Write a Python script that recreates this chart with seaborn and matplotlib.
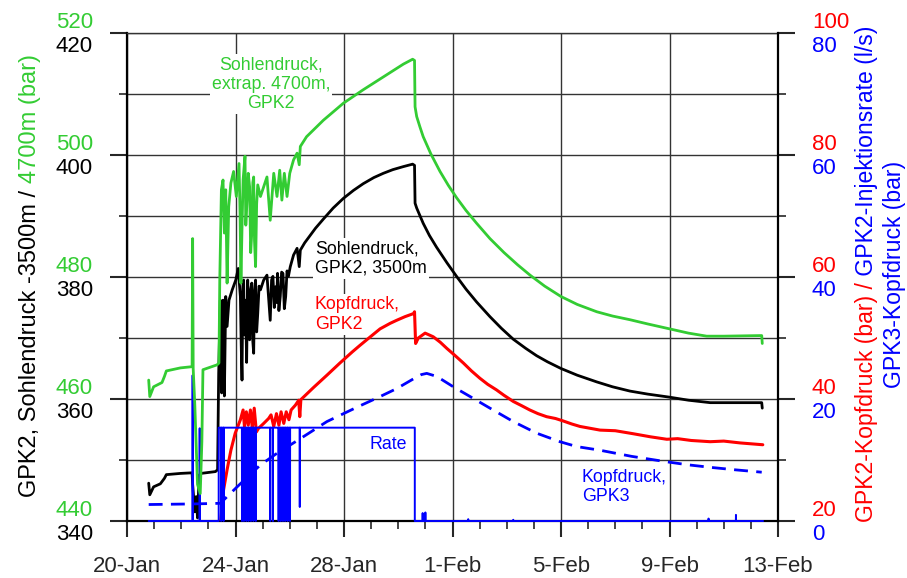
import pandas as pd
import matplotlib
matplotlib.use("Agg")
import matplotlib.pyplot as plt
import matplotlib.dates as mdates
from matplotlib.ticker import FixedLocator, MultipleLocator
import seaborn as sns

T0 = pd.Timestamp("2000-01-20")
DAYS_SHOWN = 24

# ---- x axis -------------------------------------------------------------
xtick_days = [0, 4, 8, 12, 16, 20, 24]
xtick_labels = ["20-Jan", "24-Jan", "28-Jan", "1-Feb", "5-Feb", "9-Feb", "13-Feb"]

# ---- y axes ----------------------------------------------------------------
black_ticks = [340, 360, 380, 400, 420]   # Sohlendruck 3500 m (bar)
green_ticks = [440, 460, 480, 500, 520]   # Sohlendruck 4700 m (bar)
red_ticks = [20, 40, 60, 80, 100]         # GPK2 Kopfdruck (bar)
blue_ticks = [0, 20, 40, 60, 80]          # Injektionsrate (l/s) / GPK3 Kopfdruck (bar)

# ---- Sohlendruck GPK2, 3500 m (bar); time in days after 20-Jan ----------
sohle3500_days = [0.80, 0.84, 0.98, 1.23, 1.38, 1.45, 1.97, 2.40, 2.42, 2.50,
                  2.55, 2.60, 2.66, 2.72, 3.26, 3.34, 3.38, 3.44, 3.49, 3.54,
                  3.59, 3.64, 3.69, 3.76, 3.88, 4.01, 4.10, 4.18, 4.21, 4.24,
                  4.27, 4.30, 4.33, 4.37, 4.41, 4.45, 4.49, 4.52, 4.56, 4.60,
                  4.63, 4.67, 4.70, 4.74, 4.78, 4.82, 4.87, 4.92, 5.04, 5.16,
                  5.28, 5.33, 5.38, 5.43, 5.48, 5.52, 5.55, 5.60, 5.65, 5.70,
                  5.75, 5.80, 5.85, 5.90, 5.95, 6.02, 6.14, 6.27, 6.35, 6.39,
                  6.55, 6.70, 6.95, 7.24, 7.60, 7.98, 8.35, 8.71, 9.10, 9.45,
                  9.80, 10.19, 10.53, 10.60, 10.62, 10.68,
                  10.92, 11.15, 11.41, 11.80, 12.15, 12.50, 12.89, 13.38, 13.80, 14.24,
                  14.70, 15.10, 15.50, 16.00, 16.60, 17.32, 17.90, 18.54, 19.20, 20.00,
                  20.70, 21.50, 23.40, 23.42]
sohle3500_bar = [346.2, 344.3, 345.6, 346.1, 347.0, 347.6, 347.8, 347.9, 346.0, 341.5,
                 344.0, 340.5, 347.5, 347.8, 348.1, 348.4, 364.2, 376.2, 361.0, 376.2,
                 360.5, 376.8, 371.9, 376.2, 377.9, 379.5, 381.4, 376.8, 369.0, 363.1,
                 378.5, 379.5, 370.5, 376.2, 366.0, 379.5, 372.0, 369.7, 378.0, 379.0,
                 370.0, 367.5, 377.5, 379.5, 371.0, 374.0, 378.5, 377.9, 379.5, 380.3,
                 372.9, 379.5, 380.1, 375.0, 378.4, 375.8, 380.6, 374.5, 376.8, 380.8,
                 380.6, 374.8, 376.8, 381.0, 380.1, 381.7, 383.6, 384.7, 381.7, 384.4,
                 385.6, 386.5, 388.0, 389.5, 391.3, 392.9, 394.2, 395.3, 396.3, 397.0,
                 397.6, 398.1, 398.5, 398.3, 392.1, 391.3,
                 388.8, 386.8, 384.9, 382.3, 380.1, 378.0, 375.9, 373.5, 371.6, 369.8,
                 368.3, 367.1, 366.1, 365.0, 363.9, 362.8, 362.0, 361.3, 360.8, 360.3,
                 359.8, 359.4, 359.4, 358.5]

# ---- Sohlendruck extrapoliert auf 4700 m (bar) ----------------------------
sohle4700_days = [0.80, 0.84, 0.98, 1.29, 1.38, 1.45, 1.97, 2.40, 2.42, 2.44,
                  2.50, 2.60, 2.70, 2.76, 2.80, 3.32, 3.39, 3.42, 3.48, 3.54,
                  3.59, 3.64, 3.69, 3.75, 3.83, 3.93, 4.03, 4.13, 4.17, 4.20,
                  4.24, 4.28, 4.35, 4.38, 4.42, 4.47, 4.52, 4.56, 4.60, 4.64,
                  4.67, 4.70, 4.74, 4.78, 4.82, 4.92, 5.04, 5.16, 5.28, 5.41,
                  5.53, 5.63, 5.71, 5.80, 5.90, 6.00, 6.14, 6.27, 6.35, 6.39,
                  6.62, 7.24, 7.98, 8.71, 9.45, 10.19, 10.53, 10.60, 10.62, 10.68,
                  10.80, 10.92, 11.20, 11.54, 11.85, 12.15, 12.50, 12.89, 13.38, 13.90,
                  14.40, 14.86, 15.40, 16.00, 16.60, 17.32, 17.90, 18.54, 19.20, 20.00,
                  20.70, 21.37, 22.00, 23.40, 23.42]
sohle4700_bar = [463.1, 460.4, 462.0, 462.7, 463.7, 464.6, 465.1, 465.3, 486.3, 465.0,
                 459.0, 446.0, 444.5, 453.0, 464.8, 465.6, 465.9, 479.5, 494.3, 495.9,
                 487.2, 494.3, 479.0, 491.5, 495.4, 497.3, 493.2, 498.6, 490.0, 479.0,
                 488.0, 495.9, 499.8, 488.5, 492.1, 497.0, 494.8, 484.0, 487.2, 495.5,
                 496.4, 486.0, 481.7, 492.0, 495.1, 493.2, 494.8, 496.4, 489.3, 497.0,
                 493.2, 497.5, 492.6, 497.0, 493.2, 497.0, 499.2, 500.3, 498.4, 501.4,
                 503.0, 505.7, 508.5, 510.7, 512.8, 514.9, 515.7, 515.5, 507.9, 506.3,
                 504.6, 503.0, 500.2, 497.3, 495.0, 493.0, 490.9, 488.8, 486.3, 484.0,
                 482.0, 480.3, 478.5, 476.8, 475.5, 474.3, 473.6, 473.0, 472.3, 471.5,
                 470.8, 470.3, 470.3, 470.4, 469.1]

# ---- Kopfdruck GPK2 (bar) ---------------------------------------------------
kopf_gpk2_days = [3.46, 3.56, 3.69, 3.83, 3.99, 4.18, 4.28, 4.33, 4.40, 4.47,
                  4.55, 4.62, 4.69, 4.77, 4.85, 5.04, 5.22, 5.31, 5.41, 5.51,
                  5.60, 5.68, 5.78, 5.87, 5.97, 6.05, 6.21, 6.33, 6.37, 6.41,
                  6.88, 7.37, 7.85, 8.30, 8.59, 9.00, 9.33, 9.70, 9.94, 10.25,
                  10.56, 10.60, 10.64, 10.74, 10.99, 11.29, 11.55, 11.79, 12.10, 12.40,
                  12.70, 13.01, 13.30, 13.62, 13.90, 14.24, 14.55, 14.85, 15.15, 15.47,
                  15.80, 16.08, 16.40, 16.70, 17.44, 18.00, 18.67, 19.30, 19.90, 20.30,
                  20.80, 21.50, 22.00, 22.60, 23.44]
kopf_gpk2_bar = [20.2, 25.1, 28.4, 31.6, 34.4, 36.6, 38.2, 35.5, 37.9, 35.7,
                 38.2, 35.2, 38.5, 34.6, 35.2, 36.0, 36.8, 37.4, 35.5, 37.6,
                 35.7, 37.9, 36.0, 37.9, 36.6, 38.2, 39.0, 39.8, 37.1, 39.9,
                 41.9, 43.9, 45.9, 47.7, 48.8, 50.3, 51.5, 52.4, 52.9, 53.5,
                 54.0, 54.3, 49.1, 50.0, 50.8, 50.2, 49.3, 48.3, 47.1, 45.9,
                 44.6, 43.4, 42.4, 41.5, 40.6, 39.6, 38.9, 38.2, 37.6, 37.1,
                 36.8, 36.4, 35.9, 35.5, 34.9, 34.8, 34.3, 33.8, 33.4, 33.5,
                 33.2, 33.0, 33.1, 32.8, 32.5]

# ---- Kopfdruck GPK3 (bar) ---------------------------------------------------
kopf_gpk3_days = [0.80, 2.46, 3.44, 4.06, 4.92, 5.53, 6.39, 7.37, 8.50, 9.33,
                  9.94, 10.56, 10.85, 11.05, 11.42, 12.03, 12.65, 13.38, 14.24, 15.10,
                  15.96, 16.58, 17.44, 18.60, 19.90, 20.70, 21.50, 22.40, 23.40]
kopf_gpk3_bar = [2.7, 2.8, 2.9, 5.6, 9.2, 11.1, 13.5, 16.3, 18.7, 20.4,
                 21.7, 23.3, 24.0, 24.2, 23.7, 22.0, 20.4, 18.5, 16.3, 14.4,
                 13.0, 12.2, 11.6, 10.6, 9.7, 9.2, 8.8, 8.4, 8.0]

# ---- Injektionsrate GPK2 (l/s) ---------------------------------------------
rate_first_day, rate_last_day = 0.80, 23.45
rate_on_day, rate_off_day = 3.38, 10.61
rate_level = 15.3
# short interruptions while injecting: (day, l/s reached)
rate_dip_days = [3.47, 3.56, 4.24, 4.31, 4.40, 4.48, 4.57, 4.66, 4.75, 5.28,
                 5.38, 5.59, 5.67, 5.75, 5.83, 5.92, 6.01, 6.37]
rate_dip_ls = [0.0, 0.0, 0.0, 0.0, 0.0, 0.0, 0.0, 0.0, 0.0, 0.0,
               0.0, 0.0, 0.0, 0.0, 0.0, 0.0, 0.0, 2.3]
# short pulses while shut in
rate_pulse_days = [2.42, 2.68, 10.90, 10.96, 11.00, 12.58, 14.24, 21.44, 22.45]
rate_pulse_ls = [23.9, 15.2, 1.3, 0.9, 1.4, 0.3, 0.2, 0.4, 1.0]

GREEN = "#33cc33"
RED = "#ff0000"
BLUE = "#0000ff"
GRID = "#333333"


def frame(days, values):
    return pd.DataFrame({"time": T0 + pd.to_timedelta(days, unit="D"),
                         "value": values})


def rate_frame():
    """Step trace of the injection rate with its short spikes."""
    w = 0.004
    pts = [(rate_first_day, 0.0)]
    for d, v in zip(rate_pulse_days, rate_pulse_ls):
        if d < rate_on_day:
            pts += [(d - w, 0.0), (d, v), (d + w, 0.0)]
    pts += [(rate_on_day, 0.0), (rate_on_day, rate_level)]
    for d, v in zip(rate_dip_days, rate_dip_ls):
        pts += [(d - w, rate_level), (d, v), (d + w, rate_level)]
    pts += [(rate_off_day, rate_level), (rate_off_day, 0.0)]
    for d, v in zip(rate_pulse_days, rate_pulse_ls):
        if d > rate_off_day:
            pts += [(d - w, 0.0), (d, v), (d + w, 0.0)]
    pts.append((rate_last_day, 0.0))
    days, vals = zip(*pts)
    return frame(list(days), list(vals))


sns.set_style("white")
plt.rcParams["font.family"] = ["Liberation Sans", "DejaVu Sans"]

W, H = 907, 578
fig = plt.figure(figsize=(W / 100, H / 100), dpi=100)
ax = fig.add_axes([127 / W, 1 - 521 / H, (778 - 127) / W, (521 - 33) / H])
axr = ax.twinx()
axb = ax.twinx()
axg = ax.twinx()

line_kw = dict(x="time", y="value", sort=False, estimator=None)
sns.lineplot(data=frame(sohle3500_days, sohle3500_bar), ax=ax, color="black",
             lw=2.0, **line_kw)
sns.lineplot(data=frame(kopf_gpk2_days, kopf_gpk2_bar), ax=axr, color=RED,
             lw=2.2, **line_kw)
sns.lineplot(data=frame(kopf_gpk3_days, kopf_gpk3_bar), ax=axb, color=BLUE,
             lw=2.0, linestyle=(0, (5.0, 3.0)), **line_kw)
sns.lineplot(data=rate_frame(), ax=axb, color=BLUE, lw=1.4, clip_on=False,
             **line_kw)
sns.lineplot(data=frame(sohle4700_days, sohle4700_bar), ax=axg, color=GREEN,
             lw=2.0, **line_kw)

xlo, xhi = T0, T0 + pd.Timedelta(days=DAYS_SHOWN)
for a in (ax, axr, axb, axg):
    a.set_xlim(xlo, xhi)
    a.set_xlabel("")
    a.set_ylabel("")
ax.set_ylim(black_ticks[0], black_ticks[-1])
axg.set_ylim(green_ticks[0], green_ticks[-1])
axr.set_ylim(red_ticks[0], red_ticks[-1])
axb.set_ylim(blue_ticks[0], blue_ticks[-1])

# x axis: dates every 4 days, daily minor ticks
ax.xaxis.set_major_locator(FixedLocator(
    mdates.date2num([T0 + pd.Timedelta(days=d) for d in xtick_days])))
ax.xaxis.set_minor_locator(mdates.DayLocator())
ax.set_xticklabels(xtick_labels, fontsize=16)
ax.tick_params(axis="x", which="major", direction="out", length=11.5,
               width=1.5, pad=14, bottom=True)
ax.tick_params(axis="x", which="minor", direction="out", length=6,
               width=1.2, bottom=True)

# left axis: ticks only, labels placed below (black) / above (green) each tick
ax.yaxis.set_major_locator(FixedLocator(black_ticks))
ax.yaxis.set_minor_locator(MultipleLocator(10))
ax.tick_params(axis="y", which="major", direction="out", length=12, width=1.5,
               left=True, labelleft=False)
ax.tick_params(axis="y", which="minor", direction="out", length=6, width=1.2,
               left=True)

axr.yaxis.set_major_locator(FixedLocator(red_ticks))
axr.yaxis.set_minor_locator(MultipleLocator(10))
axr.tick_params(axis="y", which="major", direction="out", length=12, width=1.5,
                right=True, labelright=False)
axr.tick_params(axis="y", which="minor", direction="out", length=6, width=1.2,
                right=True)

axb.axis("off")
axg.axis("off")

ax.set_axisbelow(True)
ax.grid(axis="y", which="both", color=GRID, lw=1.0)
ax.grid(axis="x", which="major", color=GRID, lw=1.0)

for side in ("left", "bottom"):
    ax.spines[side].set_linewidth(1.6)
    ax.spines[side].set_color("black")
ax.spines["top"].set_linewidth(1.0)
ax.spines["top"].set_color(GRID)
ax.spines["right"].set_visible(False)
for side in ("left", "top", "bottom"):
    axr.spines[side].set_visible(False)
axr.spines["right"].set_linewidth(1.6)
axr.spines["right"].set_color("black")

tick_font = 16
for v in black_ticks:
    ax.annotate(f"{v}", xy=(0, v), xycoords=("axes fraction", "data"),
                xytext=(-34, -14), textcoords="offset pixels", ha="right",
                va="center", fontsize=tick_font, color="black",
                annotation_clip=False)
for v in green_ticks:
    axg.annotate(f"{v}", xy=(0, v), xycoords=("axes fraction", "data"),
                 xytext=(-34, 10.5), textcoords="offset pixels", ha="right",
                 va="center", fontsize=tick_font, color=GREEN,
                 annotation_clip=False)
for v in red_ticks:
    axr.annotate(f"{v}", xy=(1, v), xycoords=("axes fraction", "data"),
                 xytext=(34, 11), textcoords="offset pixels", ha="left",
                 va="center", fontsize=tick_font, color=RED,
                 annotation_clip=False)
for v in blue_ticks:
    axb.annotate(f"{v}", xy=(1, v), xycoords=("axes fraction", "data"),
                 xytext=(34, -14), textcoords="offset pixels", ha="left",
                 va="center", fontsize=tick_font, color=BLUE,
                 annotation_clip=False)

# axis titles, written in two colours
left1 = fig.text(30 / W, 1 - 497 / H, "GPK2, Sohlendruck -3500m / ",
                 rotation=90, ha="center", va="bottom", fontsize=17,
                 color="black")
ax.annotate("4700m (bar)", xy=(0.5, 1.0), xycoords=left1, ha="center",
            va="bottom", rotation=90, fontsize=17, color=GREEN,
            annotation_clip=False)

right1 = fig.text(867 / W, 1 - 522 / H, "GPK2-Kopfdruck (bar) /",
                  rotation=90, ha="center", va="bottom", fontsize=16.6,
                  color=RED)
ax.annotate(" GPK2-Injektionsrate (l/s)", xy=(0.5, 1.0), xycoords=right1,
            ha="center", va="bottom", rotation=90, fontsize=16.6,
            color=BLUE, annotation_clip=False)
fig.text(894 / W, 1 - 274 / H, "GPK3-Kopfdruck (bar)", rotation=90,
         ha="center", va="center", fontsize=16.6, color=BLUE)

# curve annotations
note_font = 12.75
box = dict(facecolor="white", edgecolor="none", pad=1.5)


def at(day):
    return mdates.date2num(T0 + pd.Timedelta(days=day))


ax.text(at(5.31), 411.6, "Sohlendruck,\nextrap. 4700m,\nGPK2", color=GREEN,
        ha="center", va="center", multialignment="center", fontsize=note_font,
        linespacing=1.2, bbox=box, zorder=1)
ax.text(at(6.93), 383.0, "Sohlendruck,\nGPK2, 3500m", color="black",
        ha="left", va="center", fontsize=note_font, linespacing=1.2,
        bbox=box, zorder=1)
ax.text(at(6.93), 373.9, "Kopfdruck,\nGPK2", color=RED, ha="left",
        va="center", fontsize=note_font, linespacing=1.2, bbox=box, zorder=1)
ax.text(at(9.62), 352.6, "Rate", color=BLUE, ha="center", va="center",
        fontsize=note_font, zorder=1)
ax.text(at(16.77), 345.6, "Kopfdruck,\nGPK3", color=BLUE, ha="left",
        va="center", fontsize=note_font, linespacing=1.2, zorder=1)

fig.savefig("out.png", dpi=100)
